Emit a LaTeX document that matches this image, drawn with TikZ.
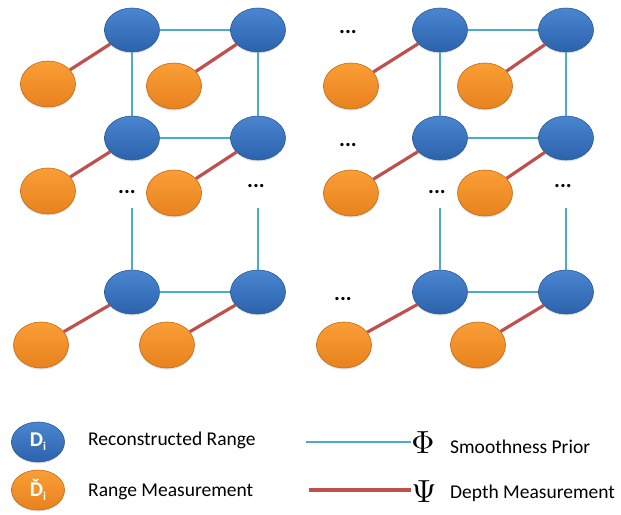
\documentclass[tikz,border=0pt]{standalone}
\usepackage{graphicx}
\usepackage{fontspec}
\setmainfont{Carlito}
\usetikzlibrary{shapes.geometric,shadows}
\definecolor{bluetop}{HTML}{4A86D0}
\definecolor{bluebot}{HTML}{2C62AC}
\definecolor{blueedge}{HTML}{2A5895}
\definecolor{orgtop}{HTML}{FA9E36}
\definecolor{orgbot}{HTML}{E8821E}
\definecolor{orgedge}{HTML}{C46A14}
\definecolor{smoothc}{HTML}{4BACC6}
\definecolor{depthc}{HTML}{C0504D}
\tikzset{
  bnode/.style={ellipse, minimum width=55pt, minimum height=44pt, inner sep=0pt,
    top color=bluetop, bottom color=bluebot, draw=blueedge, line width=0.6pt,
    drop shadow={shadow xshift=0pt, shadow yshift=-1.5pt, opacity=0.25}},
  onode/.style={ellipse, minimum width=55pt, minimum height=46pt, inner sep=0pt,
    top color=orgtop, bottom color=orgbot, draw=orgedge, line width=0.6pt,
    drop shadow={shadow xshift=0pt, shadow yshift=-1.5pt, opacity=0.25}},
  smooth/.style={draw=smoothc, line width=2.3pt},
  depth/.style={draw=depthc, line width=3.2pt},
  dots/.style={font=\fontsize{22}{22}\selectfont\bfseries, inner sep=0pt},
  legtext/.style={font=\fontsize{19.5}{20}\selectfont, anchor=west, inner sep=0pt},
  greek/.style={inner sep=0pt, font=\normalsize}
}
\begin{document}
\begin{tikzpicture}[x=1pt,y=-1pt]
\useasboundingbox (0,0) rectangle (621,514);
% ---------- left block ----------
\node[bnode] (a1) at (132,30) {};
\node[bnode] (a2) at (258,30) {};
\node[bnode] (a3) at (132,138) {};
\node[bnode] (a4) at (258,138) {};
\node[bnode] (a5) at (132,292) {};
\node[bnode] (a6) at (258,292) {};
\node[onode] (p1) at (48,84) {};
\node[onode] (p2) at (174,86) {};
\node[onode] (p3) at (48,191) {};
\node[onode] (p4) at (174,193) {};
\node[onode] (p5) at (41,345) {};
\node[onode] (p6) at (167,345) {};
\node[dots] (ld1) at (127,192) {...};
\node[dots] (ld2) at (256,186) {...};
\coordinate (lc1) at (132,208);
\coordinate (lc2) at (258,208);
% ---------- right block ----------
\node[bnode] (b1) at (440,30) {};
\node[bnode] (b2) at (566,30) {};
\node[bnode] (b3) at (440,138) {};
\node[bnode] (b4) at (566,138) {};
\node[bnode] (b5) at (440,292) {};
\node[bnode] (b6) at (566,292) {};
\node[onode] (q1) at (351,86) {};
\node[onode] (q2) at (485,86) {};
\node[onode] (q3) at (351,193) {};
\node[onode] (q4) at (485,193) {};
\node[onode] (q5) at (344,345) {};
\node[onode] (q6) at (478,345) {};
\node[dots] (rd1) at (348,32) {...};
\node[dots] (rd2) at (348,145) {...};
\node[dots] (rd3) at (437,192) {...};
\node[dots] (rd4) at (563,186) {...};
\node[dots] (rd5) at (343,299) {...};
\coordinate (rc1) at (440,208);
\coordinate (rc2) at (566,208);
% ---------- connectors ----------
\draw[smooth] (a1) -- (a2);
\draw[smooth] (a3) -- (a4);
\draw[smooth] (a5) -- (a6);
\draw[smooth] (a1) -- (a3);
\draw[smooth] (a2) -- (a4);
\draw[smooth] (lc1) -- (a5);
\draw[smooth] (lc2) -- (a6);
\draw[depth] (p1) -- (a1);
\draw[depth] (p2) -- (a2);
\draw[depth] (p3) -- (a3);
\draw[depth] (p4) -- (a4);
\draw[depth] (p5) -- (a5);
\draw[depth] (p6) -- (a6);
\draw[smooth] (b1) -- (b2);
\draw[smooth] (b3) -- (b4);
\draw[smooth] (b5) -- (b6);
\draw[smooth] (b1) -- (b3);
\draw[smooth] (b2) -- (b4);
\draw[smooth] (rc1) -- (b5);
\draw[smooth] (rc2) -- (b6);
\draw[depth] (q1) -- (b1);
\draw[depth] (q2) -- (b2);
\draw[depth] (q3) -- (b3);
\draw[depth] (q4) -- (b4);
\draw[depth] (q5) -- (b5);
\draw[depth] (q6) -- (b6);
% ---------- legend ----------
\node[bnode, minimum width=53pt, minimum height=40pt, text=white,
  font=\fontsize{21}{21}\selectfont\bfseries] (lb) at (38,442) {D\raisebox{-4pt}{\fontsize{12}{12}\selectfont i}};
\node[onode, minimum width=53pt, minimum height=40pt, text=white,
  font=\fontsize{21}{21}\selectfont\bfseries] (lo) at (38,490) {Ď\raisebox{-4pt}{\fontsize{12}{12}\selectfont i}};
\node[legtext] (t1) at (88,440) {Reconstructed Range};
\node[legtext] (t2) at (88,492) {Range Measurement};
\node[greek] (phi) at (423,443) {\scalebox{3.2}{$\Phi$}};
\node[greek] (psi) at (424,492) {\scalebox{3.2}{$\Psi$}};
\coordinate (ls) at (306,442);
\coordinate (ld) at (309,490);
\draw[smooth] (ls) -- (ls -| phi.west);
\draw[depth] (ld) -- (ld -| psi.west);
\node[legtext] (t3) at (450,447) {Smoothness Prior};
\node[legtext] (t4) at (450,493) {Depth Measurement};
\end{tikzpicture}
\end{document}
